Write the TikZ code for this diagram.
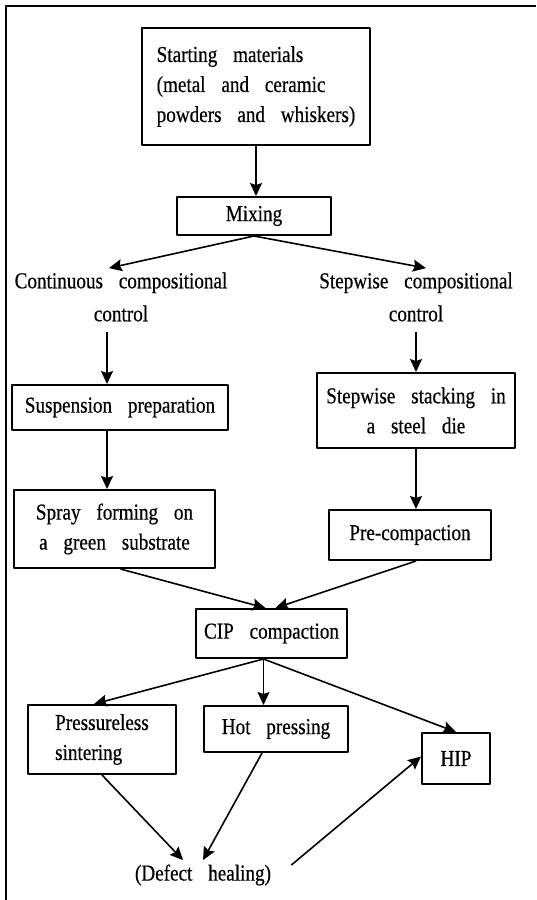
\documentclass[tikz,border=0pt]{standalone}
\usepackage{fontspec}
\setmainfont[WordSpace=3.3, FakeStretch=0.84, FakeBold=0.5]{Liberation Serif}
\usetikzlibrary{arrows.meta}

\begin{document}
\begin{tikzpicture}[x=0.5pt, y=-0.5pt, font=\fontsize{11.4}{15}\selectfont, line join=round,
	>={Stealth[length=6.5pt,width=6pt,inset=1pt]}]
	\tikzset{box/.style={draw, line width=1pt, inner sep=2pt, align=center},
		lbl/.style={align=center, inner sep=2pt},
		arr/.style={->, line width=0.8pt}}
	\useasboundingbox (0,0) rectangle (536,900);
	\draw[line width=1pt] (6,900) |- (536,6);
	% boxes and labels
	\node[box, align=left, minimum width=114pt, minimum height=58.5pt] (start) at (256,86.5) {Starting materials\\(metal and ceramic\\powders and whiskers)};
	\node[box, minimum width=77pt, minimum height=19pt] (mix) at (254,216) {Mixing};
	\node[lbl] (cont) at (121,297) {Continuous compositional\\[1.5pt]control};
	\node[lbl] (step) at (416,297) {Stepwise compositional\\[1.5pt]control};
	\node[box, minimum width=108pt, minimum height=22.5pt] (susp) at (120,407.5) {Suspension preparation};
	\node[box, minimum width=99pt, minimum height=37.5pt] (stack) at (416,410.5) {Stepwise stacking in\\a steel die};
	\node[box, minimum width=100.5pt, minimum height=39pt] (spray) at (114.5,529) {Spray forming on\\a green substrate};
	\node[box, minimum width=81pt, minimum height=25pt] (pre) at (410,535) {Pre-compaction};
	\node[box, minimum width=75.5pt, minimum height=24.5pt] (cip) at (271.5,633.5) {CIP compaction};
	\node[box, align=left, minimum width=74pt, minimum height=34.5pt] (press) at (102,739.5) {Pressureless\\sintering};
	\node[box, minimum width=72pt, minimum height=23pt] (hot) at (276,729) {Hot pressing};
	\node[box, minimum width=34pt, minimum height=25.5pt] (hip) at (456,758.5) {HIP};
	\node[lbl] (heal) at (203,875) {(Defect healing)};
	% column lines
	\coordinate (lc) at (107,0);
	\coordinate (rc) at (416,0);
	% arrows
	\draw[arr] (start.south) -- (start.south |- mix.north);
	\draw[arr] (mix.south) -- ([xshift=-6pt]cont.north);
	\draw[arr] (mix.south) -- ([xshift=5pt]step.north);
	\draw[arr] ([yshift=-3pt]cont.south -| lc) -- (susp.north -| lc);
	\draw[arr] (susp.south -| lc) -- (spray.north -| lc);
	\draw[arr] ([yshift=-3pt]step.south -| rc) -- (stack.north -| rc);
	\draw[arr] (stack.south -| rc) -- (pre.north -| rc);
	\draw[arr] ([xshift=3pt]spray.south) -- ([xshift=-3pt]cip.north);
	\draw[arr] ([xshift=3pt]pre.south) -- ([xshift=2pt]cip.north);
	\draw[arr] ([xshift=-4pt]cip.south) -- ([xshift=-4pt]press.north);
	\draw[arr] ([xshift=-4pt]cip.south) -- ([xshift=-4pt]cip.south |- hot.north);
	\draw[arr] ([xshift=-4pt]cip.south) -- (hip.north);
	\draw[arr] (press.south) -- ([xshift=-10pt]heal.north);
	\draw[arr] ([xshift=-7pt]hot.south) -- ([xshift=0pt]heal.north);
	\draw[arr] ([shift={(8pt,5pt)}]heal.east) -- ([yshift=1pt]hip.west);
\end{tikzpicture}
\end{document}
